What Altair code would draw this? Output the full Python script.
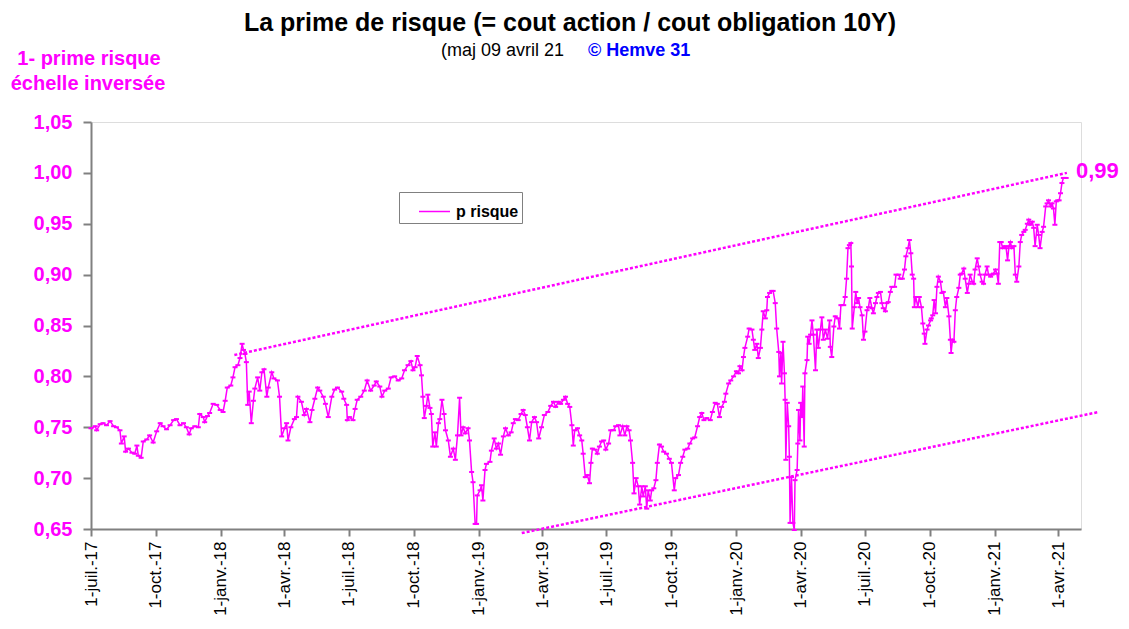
import altair as alt
import pandas as pd

# ---------------- data ----------------
# day offsets from 2017-07-01 and the "p risque" value
jours = [
    0, 6, 8, 13, 17, 22, 27, 32, 36, 41, 43, 47, 49, 53, 58, 62, 65, 67, 71, 74,
    79, 83, 88, 93, 98, 102, 107, 112, 117, 121, 126, 131, 135, 139, 142, 147, 152, 154, 159, 161,
    165, 168, 173, 178, 183, 187, 190, 193, 198, 201, 204, 208, 211, 214, 216, 218, 220, 222, 224, 227,
    230, 232, 236, 239, 242, 245, 249, 251, 256, 259, 264, 267, 270, 274, 277, 279, 283, 288, 291, 293,
    298, 302, 305, 310, 313, 317, 321, 324, 329, 332, 336, 341, 345, 349,
    355, 358, 362, 363, 366, 371, 374, 377, 382, 387, 391, 396, 401, 404, 409, 412, 416, 421, 425, 430,
    435, 440, 444, 449, 453, 456, 459, 462, 466, 468, 470, 472, 475, 477, 480, 482, 484, 487, 489, 492,
    494, 497, 500, 502, 506, 509, 513, 516, 519, 522, 524, 527, 530, 534, 536, 539, 541, 544, 546, 547,
    551, 553, 555, 558, 560, 565, 567, 571, 574, 577, 580, 584, 587, 591, 595, 598, 601, 605, 609, 612,
    615, 618, 621, 624, 628, 631, 634, 638, 642, 647, 651, 655, 658, 662, 665, 669, 672, 675, 678, 681,
    683, 685, 689,
    692, 695, 697, 700, 703, 706, 708, 710, 714, 717, 720, 723, 726, 729, 733, 736, 740, 743, 747, 749,
    753, 756, 759, 762, 764, 767, 769, 772, 775, 777, 780, 782, 785, 787, 789, 792, 794, 797, 800, 802,
    805, 808, 811, 815, 819, 822, 826, 828, 832, 835, 838, 841, 845, 848, 852, 855, 859, 862, 865, 868,
    872, 877, 880, 884, 887, 890, 893, 897, 899, 903, 906, 910, 914, 917, 919, 922, 924, 926, 930, 932,
    936, 938, 940, 943, 945, 948, 950, 952, 955, 957, 958, 961, 964, 966, 969, 971, 974, 975, 977, 978,
    980, 982, 983, 984, 986, 988, 989, 990, 992, 994, 996, 997, 1000, 1001, 1002, 1004, 1005, 1007, 1008, 1010,
    1011, 1014, 1015, 1017, 1019, 1021, 1023, 1026, 1028, 1030, 1033, 1035, 1037, 1040, 1043, 1046,
    1047, 1049, 1052, 1054, 1058, 1060, 1062, 1066, 1068, 1070, 1072, 1074, 1076, 1077, 1078, 1081, 1083, 1085, 1087, 1089,
    1092, 1094, 1096, 1099, 1101, 1103, 1106, 1108, 1111, 1113, 1115, 1118, 1120, 1122, 1125, 1127, 1129, 1132, 1134, 1138,
    1140, 1144, 1146, 1149, 1152, 1154, 1157, 1159, 1161, 1163, 1165, 1166, 1168, 1171, 1173, 1176, 1178, 1180, 1181, 1184,
    1186, 1189, 1190, 1192, 1194, 1196, 1198, 1200, 1203, 1205, 1207, 1210, 1212, 1215, 1217, 1218, 1220, 1222, 1224, 1226,
    1229, 1231, 1233, 1236, 1238, 1241, 1243, 1245, 1248, 1250, 1252, 1255, 1257, 1259, 1262, 1264, 1266, 1269, 1271, 1274,
    1276, 1278, 1281, 1283, 1285, 1287, 1289, 1291, 1294, 1296, 1298, 1300, 1302, 1304, 1307, 1309, 1311, 1314, 1316, 1318,
    1321, 1323, 1326, 1328, 1330, 1333, 1335, 1337, 1340, 1342, 1344, 1347, 1349, 1352, 1354, 1356, 1359, 1361, 1363, 1365,
    1367, 1369, 1371, 1373, 1375, 1377, 1379, 1381,
]
prime = [
    0.749, 0.751, 0.747, 0.753, 0.754, 0.752, 0.756, 0.751, 0.750, 0.747, 0.734, 0.741, 0.726, 0.729, 0.725, 0.724, 0.732, 0.722, 0.720, 0.736,
    0.738, 0.742, 0.735, 0.746, 0.754, 0.751, 0.748, 0.752, 0.757, 0.758, 0.752, 0.754, 0.750, 0.743, 0.749, 0.751, 0.750, 0.763, 0.760, 0.755,
    0.761, 0.764, 0.773, 0.772, 0.767, 0.765, 0.776, 0.789, 0.791, 0.799, 0.809, 0.811, 0.818, 0.832, 0.826, 0.822, 0.814, 0.772, 0.785, 0.754,
    0.776, 0.788, 0.799, 0.786, 0.804, 0.807, 0.780, 0.789, 0.804, 0.798, 0.796, 0.780, 0.741, 0.749, 0.754, 0.737, 0.750, 0.758, 0.760, 0.780,
    0.775, 0.762, 0.768, 0.755, 0.767, 0.778, 0.789, 0.786, 0.780, 0.773, 0.760, 0.780, 0.787, 0.789,
    0.785, 0.778, 0.772, 0.757, 0.760, 0.757, 0.768, 0.777, 0.780, 0.786, 0.796, 0.786, 0.791, 0.795, 0.790, 0.780, 0.786, 0.788, 0.799, 0.800,
    0.796, 0.798, 0.806, 0.811, 0.815, 0.806, 0.809, 0.820, 0.811, 0.801, 0.780, 0.759, 0.771, 0.782, 0.769, 0.763, 0.731, 0.745, 0.731, 0.754,
    0.758, 0.777, 0.763, 0.747, 0.737, 0.721, 0.729, 0.718, 0.742, 0.779, 0.742, 0.750, 0.744, 0.749, 0.737, 0.706, 0.696, 0.655, 0.655, 0.683,
    0.688, 0.693, 0.678, 0.708, 0.714, 0.716, 0.727, 0.739, 0.729, 0.734, 0.723, 0.741, 0.749, 0.742, 0.745, 0.754, 0.758, 0.757, 0.763, 0.767,
    0.762, 0.750, 0.737, 0.755, 0.760, 0.755, 0.739, 0.750, 0.762, 0.765, 0.771, 0.775, 0.770, 0.775, 0.773, 0.777, 0.780, 0.773, 0.770, 0.752,
    0.732, 0.747, 0.749,
    0.742, 0.737, 0.724, 0.701, 0.703, 0.695, 0.715, 0.729, 0.728, 0.724, 0.731, 0.736, 0.737, 0.728, 0.734, 0.747, 0.747, 0.751, 0.752, 0.742,
    0.751, 0.742, 0.751, 0.747, 0.737, 0.715, 0.685, 0.700, 0.692, 0.674, 0.692, 0.682, 0.692, 0.670, 0.688, 0.678, 0.688, 0.690, 0.698, 0.715,
    0.733, 0.731, 0.726, 0.724, 0.719, 0.715, 0.688, 0.700, 0.703, 0.715, 0.721, 0.728, 0.729, 0.734, 0.739, 0.740, 0.751, 0.760, 0.764, 0.757,
    0.759, 0.757, 0.765, 0.774, 0.773, 0.760, 0.770, 0.775, 0.783, 0.793, 0.796, 0.800, 0.805, 0.803, 0.810, 0.806, 0.819, 0.828, 0.839, 0.847,
    0.846, 0.836, 0.826, 0.832, 0.818, 0.828, 0.846, 0.864, 0.857, 0.865, 0.878, 0.882, 0.884, 0.884, 0.872, 0.847, 0.824, 0.800, 0.823, 0.793,
    0.834, 0.803, 0.777, 0.718, 0.774, 0.751, 0.721, 0.656, 0.701, 0.656, 0.649, 0.698, 0.708, 0.734, 0.767, 0.737, 0.774, 0.760, 0.790, 0.731,
    0.803, 0.816, 0.839, 0.832, 0.841, 0.855, 0.841, 0.806, 0.846, 0.828, 0.846, 0.858, 0.836, 0.846, 0.837, 0.855,
    0.829, 0.819, 0.849, 0.859, 0.857, 0.847, 0.870, 0.870, 0.878, 0.896, 0.926, 0.929, 0.931, 0.908, 0.847, 0.868, 0.883, 0.872, 0.877, 0.868,
    0.860, 0.836, 0.844, 0.865, 0.868, 0.877, 0.867, 0.862, 0.872, 0.878, 0.882, 0.883, 0.872, 0.867, 0.864, 0.872, 0.873, 0.883, 0.888, 0.888,
    0.900, 0.900, 0.896, 0.896, 0.905, 0.918, 0.926, 0.934, 0.921, 0.900, 0.896, 0.868, 0.878, 0.868, 0.878, 0.868, 0.852, 0.842, 0.832, 0.846,
    0.850, 0.855, 0.857, 0.860, 0.875, 0.862, 0.888, 0.898, 0.893, 0.882, 0.883, 0.868, 0.877, 0.859, 0.836, 0.823, 0.836, 0.834, 0.865, 0.878,
    0.887, 0.900, 0.901, 0.906, 0.896, 0.882, 0.891, 0.900, 0.893, 0.891, 0.905, 0.916, 0.908, 0.900, 0.893, 0.891, 0.900, 0.908, 0.900, 0.898,
    0.900, 0.901, 0.905, 0.901, 0.891, 0.932, 0.932, 0.926, 0.928, 0.926, 0.914, 0.928, 0.932, 0.926, 0.928, 0.900, 0.893, 0.908, 0.932, 0.939,
    0.942, 0.944, 0.950, 0.954, 0.949, 0.952, 0.946, 0.928, 0.949, 0.939, 0.926, 0.942, 0.947, 0.967, 0.970, 0.973, 0.967, 0.970, 0.965, 0.949,
    0.972, 0.973, 0.973, 0.980, 0.990, 0.995, 0.995, 0.995,
]

# dotted trend channel (day offsets / values)
haut_jours = [203, 1382]
haut_val = [0.821, 1.000]
bas_jours = [610, 1427]
bas_val = [0.646, 0.765]

tick_dates = ["2017-07-01", "2017-10-01", "2018-01-01", "2018-04-01", "2018-07-01", "2018-10-01",
              "2019-01-01", "2019-04-01", "2019-07-01", "2019-10-01", "2020-01-01", "2020-04-01",
              "2020-07-01", "2020-10-01", "2021-01-01", "2021-04-01"]
tick_labels = ["1-juil.-17", "1-oct.-17", "1-janv.-18", "1-avr.-18", "1-juil.-18", "1-oct.-18",
               "1-janv.-19", "1-avr.-19", "1-juil.-19", "1-oct.-19", "1-janv.-20", "1-avr.-20",
               "1-juil.-20", "1-oct.-20", "1-janv.-21", "1-avr.-21"]
y_ticks = [0.65, 0.70, 0.75, 0.80, 0.85, 0.90, 0.95, 1.00, 1.05]

# ---------------- build tables ----------------
ORIGINE = pd.Timestamp("2017-07-01")


def to_dates(offsets):
    return [(ORIGINE + pd.Timedelta(days=d)).strftime("%Y-%m-%dT00:00:00") for d in offsets]


df = pd.DataFrame({"date": to_dates(jours), "prime": prime, "serie": "p risque"})
df_trend = pd.DataFrame({
    "date": to_dates(haut_jours) + to_dates(bas_jours),
    "prime": haut_val + bas_val,
    "groupe": ["haut", "haut", "bas", "bas"],
})

MAGENTA = "#FF00FF"
GRIS = "#808080"
FONT = "Liberation Sans"


def dt(s):
    y, m, d = (int(v) for v in s.split("-"))
    return alt.DateTime(year=y, month=m, date=d)


label_map = "{" + ", ".join(f"'{d}': '{l}'" for d, l in zip(tick_dates, tick_labels)) + "}"

x_enc = alt.X(
    "date:T",
    scale=alt.Scale(domain=[dt("2017-07-01"), dt("2021-05-03")]),
    axis=alt.Axis(
        values=[dt(d) for d in tick_dates],
        labelExpr=label_map + "[timeFormat(datum.value, '%Y-%m-%d')]",
        labelAngle=270, labelFontSize=17, labelColor="black", labelFont=FONT,
        labelPadding=5, tickSize=7, tickColor=GRIS, tickWidth=2,
        domainColor=GRIS, domainWidth=2, grid=False, title=None,
        labelOverlap=False, labelFlush=False, labelBound=False,
    ),
)
y_enc = alt.Y(
    "prime:Q",
    scale=alt.Scale(domain=[0.65, 1.05], nice=False, zero=False),
    axis=alt.Axis(
        values=y_ticks,
        labelExpr="replace(format(datum.value, '.2f'), '.', ',')",
        labelColor=MAGENTA, labelFontSize=20, labelFontWeight="bold", labelFont=FONT,
        labelPadding=11, tickSize=8, tickColor=GRIS, tickWidth=2,
        domainColor=GRIS, domainWidth=2, grid=False, title=None,
    ),
)

base = alt.Chart(df).encode(x=x_enc, y=y_enc)

ligne = base.mark_line(strokeWidth=1.5).encode(
    color=alt.Color(
        "serie:N",
        scale=alt.Scale(domain=["p risque"], range=[MAGENTA]),
        legend=alt.Legend(
            title=None, orient="none", legendX=308, legendY=70,
            symbolType="stroke", symbolSize=961, symbolStrokeWidth=1.5, symbolOffset=16,
            labelFontSize=16, labelFontWeight="bold", labelColor="black", labelFont=FONT,
            labelOffset=5, strokeColor=GRIS, fillColor="white", padding=3,
        ),
    )
)
points = base.mark_point(shape="stroke", size=25, strokeWidth=2, color=MAGENTA, opacity=1)

tendance = alt.Chart(df_trend).mark_line(
    color=MAGENTA, strokeDash=[3, 2], strokeWidth=2.5
).encode(x="date:T", y="prime:Q", detail="groupe:N")

txt = alt.Chart(pd.DataFrame({"a": [0]}))


def texte(t, x, y, size, color="black", weight="normal", align="left"):
    return txt.mark_text(
        text=t, fontSize=size, fontWeight=weight, color=color, align=align,
        baseline="alphabetic", font=FONT,
    ).encode(x=alt.value(x), y=alt.value(y))


titre = texte("La prime de risque (= cout action / cout obligation 10Y)", 479, -91, 25,
              weight="bold", align="center")
maj = texte("(maj 09 avril 21", 350, -66, 18)
auteur = texte("© Hemve 31", 497, -66, 18, color="#0000FF", weight="bold")
ytitre1 = texte("1- prime risque", -2, -57, 20, color=MAGENTA, weight="bold", align="center")
ytitre2 = texte("échelle inversée", -3, -32, 20, color=MAGENTA, weight="bold", align="center")
dernier = texte("0,99", 985, 56, 22, color=MAGENTA, weight="bold")

chart = alt.layer(
    tendance, ligne, points, titre, maj, auteur, ytitre1, ytitre2, dernier
).properties(
    width=990, height=407,
    autosize=alt.AutoSizeParams(type="none"),
    padding={"left": 83, "top": 114, "right": 40, "bottom": 90},
).configure_view(
    stroke=GRIS, strokeWidth=1.5
).configure(font=FONT, background="white")

chart.save("out.html", embed_options={"renderer": "svg", "actions": False})
